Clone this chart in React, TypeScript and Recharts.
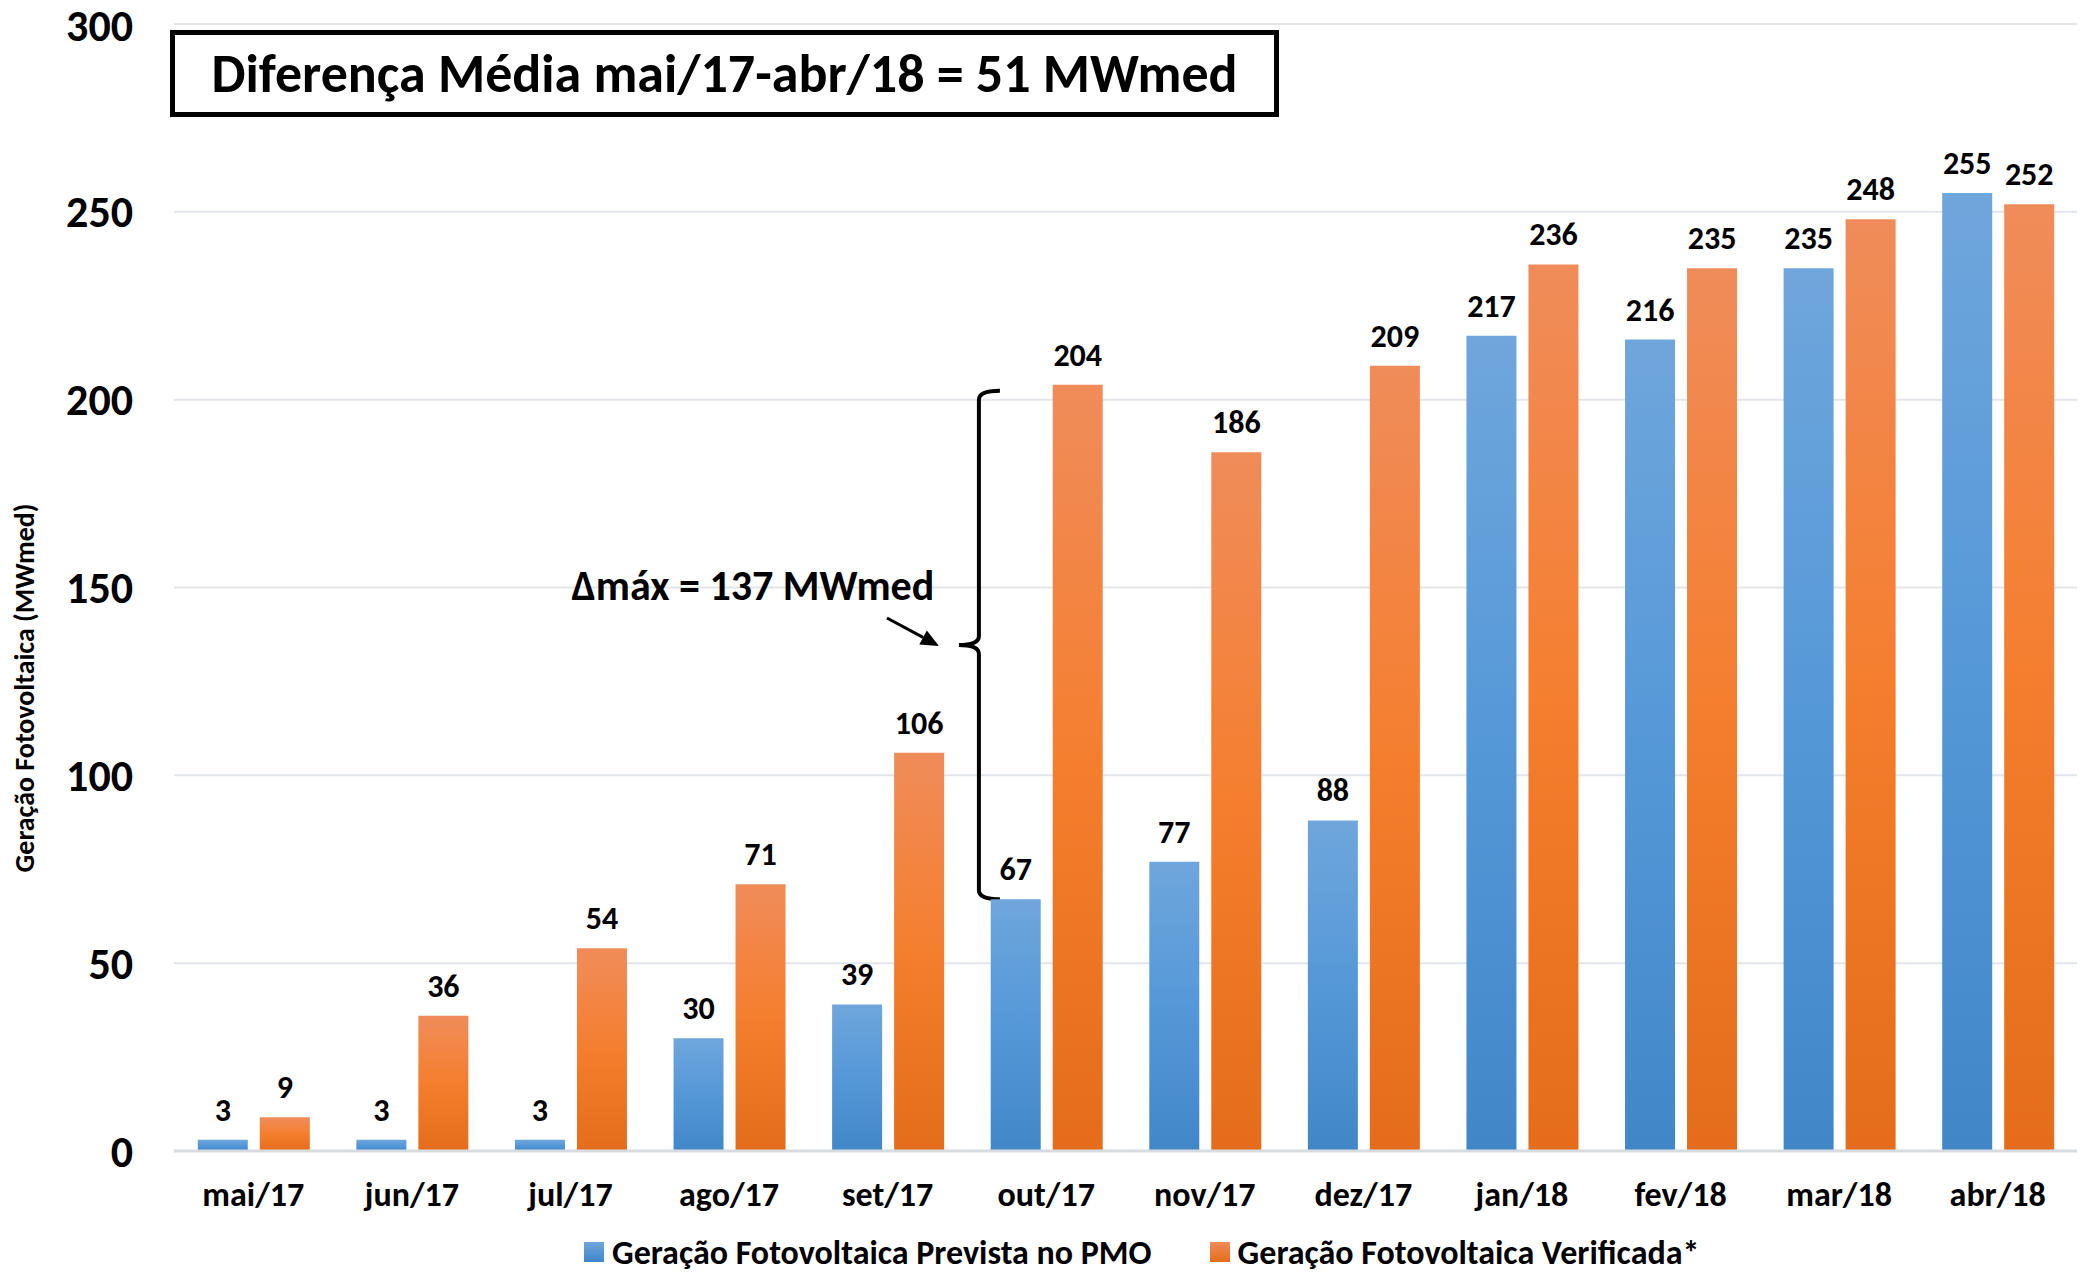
import React from 'react';
import { BarChart, Bar, XAxis, YAxis, CartesianGrid, LabelList, Legend, ReferenceArea } from 'recharts';

const months = ['mai/17', 'jun/17', 'jul/17', 'ago/17', 'set/17', 'out/17', 'nov/17', 'dez/17', 'jan/18', 'fev/18', 'mar/18', 'abr/18'];
const prevista = [3, 3, 3, 30, 39, 67, 77, 88, 217, 216, 235, 255];
const verificada = [9, 36, 54, 71, 106, 204, 186, 209, 236, 235, 248, 252];
const yTicks = [0, 50, 100, 150, 200, 250, 300];
const seriesNames = ['Geração Fotovoltaica Prevista no PMO', 'Geração Fotovoltaica Verificada*'];
const yTitle = 'Geração Fotovoltaica (MWmed)';
const boxText = 'Diferença Média mai/17-abr/18 = 51 MWmed';
const deltaText = 'Δmáx = 137 MWmed';
const deltaMonth = 'out/17';
const deltaLow = 67;
const deltaHigh = 204;

const data = months.map((m, i) => ({ month: m, prevista: prevista[i], verificada: verificada[i] }));

const FONT = 'Carlito, Calibri, Lato, sans-serif';
const W = 2082;
const H = 1272;

// curly brace + arrow + text, placed from the reference area the scales give us
const Brace = (props: any) => {
  const { x, y, height } = props;
  if (x == null || y == null) return null;
  const bx = x + 12;
  const top = y + 6;
  const bot = y + height;
  const mid = (top + bot) / 2;
  const d = `M ${bx + 21} ${top} Q ${bx} ${top} ${bx} ${top + 9} L ${bx} ${mid - 9} Q ${bx} ${mid} ${bx - 20} ${mid} Q ${bx} ${mid} ${bx} ${mid + 9} L ${bx} ${bot - 9} Q ${bx} ${bot} ${bx + 21} ${bot}`;
  const ax1 = x - 80, ay1 = mid - 27, ax2 = x - 28, ay2 = mid + 1;
  const ang = Math.atan2(ay2 - ay1, ax2 - ax1);
  const hl = 18, hw = 8;
  const bxh = ax2 - hl * Math.cos(ang), byh = ay2 - hl * Math.sin(ang);
  const p1 = `${ax2},${ay2}`;
  const p2 = `${bxh + hw * Math.sin(ang)},${byh - hw * Math.cos(ang)}`;
  const p3 = `${bxh - hw * Math.sin(ang)},${byh + hw * Math.cos(ang)}`;
  return (
    <g>
      <path d={d} fill="none" stroke="#000" strokeWidth={4} />
      <line x1={ax1} y1={ay1} x2={bxh} y2={byh} stroke="#000" strokeWidth={3} />
      <polygon points={`${p1} ${p2} ${p3}`} fill="#000" />
      <text x={x - 214} y={mid - 45} textAnchor="middle" fontFamily={FONT} fontWeight={700} fontSize={42} fill="#000">
        {deltaText}
      </text>
    </g>
  );
};

const LegendBox = () => (
  <div style={{ display: 'flex', alignItems: 'center', fontFamily: FONT, fontWeight: 700, fontSize: 34, color: '#000', paddingLeft: 584, height: 40 }}>
    <span style={{ display: 'inline-block', width: 20, height: 20, background: 'linear-gradient(#6fa5db, #3f87c9)', marginRight: 8 }} />
    <span style={{ marginRight: 58 }}>{seriesNames[0]}</span>
    <span style={{ display: 'inline-block', width: 20, height: 20, background: 'linear-gradient(#f08c5a, #e46c1a)', marginRight: 8 }} />
    <span>{seriesNames[1]}</span>
  </div>
);

export default function App() {
  return (
    <div style={{ position: 'relative', width: W, height: H, background: '#fff' }}>
      <style>{`body{margin:0;}`}</style>
      <BarChart width={W} height={H} data={data} margin={{ top: 24, right: 5, bottom: 0, left: 0 }} barCategoryGap="15%" barGap={12}>
        <defs>
          <linearGradient id="gBlue" x1="0" y1="0" x2="0" y2="1">
            <stop offset="0%" stopColor="#6fa6dc" />
            <stop offset="50%" stopColor="#5598d8" />
            <stop offset="100%" stopColor="#4187c8" />
          </linearGradient>
          <linearGradient id="gOrange" x1="0" y1="0" x2="0" y2="1">
            <stop offset="0%" stopColor="#f08c5a" />
            <stop offset="50%" stopColor="#f57e2e" />
            <stop offset="100%" stopColor="#e46c1b" />
          </linearGradient>
        </defs>
        <CartesianGrid vertical={false} stroke="#e2e6ea" strokeWidth={2} />
        <XAxis
          dataKey="month"
          height={81}
          tickLine={false}
          tickSize={0}
          tickMargin={31}
          axisLine={{ stroke: '#d6dbe0', strokeWidth: 3 }}
          tick={{ fill: '#000', fontSize: 34, fontWeight: 700, fontFamily: FONT }}
        />
        <YAxis
          domain={[0, 300]}
          ticks={yTicks}
          width={174}
          axisLine={false}
          tickLine={false}
          tickSize={0}
          tickMargin={41}
          tick={{ fill: '#000', fontSize: 44, fontWeight: 700, fontFamily: FONT }}
          label={{
            content: () => (
              <text x={24} y={688} transform="rotate(-90 24 688)" textAnchor="middle" dominantBaseline="central" fontFamily={FONT} fontWeight={700} fontSize={28} fill="#000">
                {yTitle}
              </text>
            ),
          }}
        />
        <Legend verticalAlign="bottom" height={40} content={() => <LegendBox />} wrapperStyle={{ height: 40 }} />
        <Bar dataKey="prevista" name={seriesNames[0]} fill="url(#gBlue)" isAnimationActive={false}>
          <LabelList dataKey="prevista" position="top" offset={19} fill="#000" fontSize={32} fontWeight={700} fontFamily={FONT} />
        </Bar>
        <Bar dataKey="verificada" name={seriesNames[1]} fill="url(#gOrange)" isAnimationActive={false}>
          <LabelList dataKey="verificada" position="top" offset={19} fill="#000" fontSize={32} fontWeight={700} fontFamily={FONT} />
        </Bar>
        <ReferenceArea x1={deltaMonth} x2={deltaMonth} y1={deltaLow} y2={deltaHigh} ifOverflow="visible" shape={(p: any) => <Brace {...p} />} />
      </BarChart>
      <div
        style={{
          position: 'absolute',
          left: 170,
          top: 30,
          width: 1109,
          height: 87,
          boxSizing: 'border-box',
          border: '5px solid #000',
          background: '#fff',
          display: 'flex',
          alignItems: 'center',
          justifyContent: 'center',
          fontFamily: FONT,
          fontWeight: 700,
          fontSize: 54,
          color: '#000',
        }}
      >
        {boxText}
      </div>
    </div>
  );
}
